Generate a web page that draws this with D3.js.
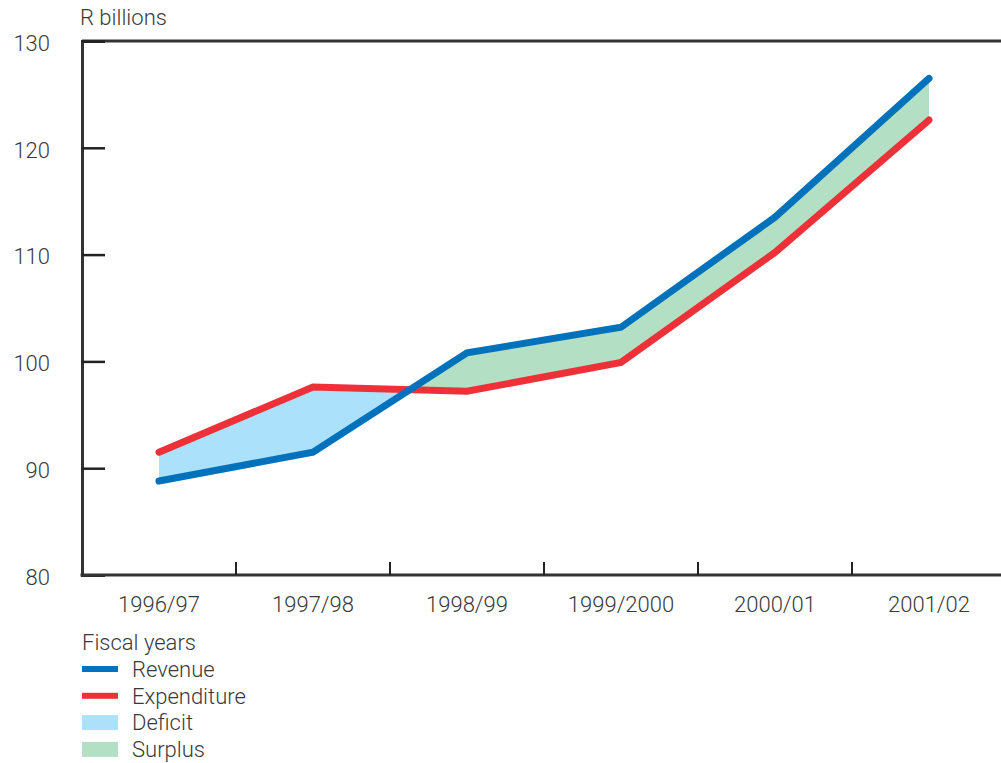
<!DOCTYPE html>
<html>
<head>
<meta charset="utf-8">
<script src="https://cdn.jsdelivr.net/npm/d3@7"></script>
<style>
  body { margin: 0; background: #fff; }
  svg text { font-family: Roboto, "Liberation Sans", sans-serif; font-weight: 300; fill: #3a3a3a; }
</style>
</head>
<body>
<div id="chart"></div>
<script>
// Fiscal years and values (R billions)
const years = ["1996/97", "1997/98", "1998/99", "1999/2000", "2000/01", "2001/02"];
const revenue = [88.8, 91.5, 100.8, 103.2, 113.5, 126.5];
const expenditure = [91.5, 97.6, 97.2, 99.9, 110.2, 122.6];
const yTicks = [80, 90, 100, 110, 120, 130];

const legendItems = [
    { label: "Revenue", color: "#0072bc", h: 6 },
    { label: "Expenditure", color: "#ee3139", h: 6 },
    { label: "Deficit", color: "#abe1fa", h: 15 },
    { label: "Surplus", color: "#b3e0c5", h: 15 }
];

const width = 1001;
const height = 763;
const margin = { top: 41, left: 82, bottom: 575 };
const fontSize = 22;

const svg = d3.select("#chart")
    .append("svg")
    .attr("width", width)
    .attr("height", height);

const x = d3.scaleBand()
    .domain(years)
    .range([margin.left, margin.left + 6 * 154]);

const y = d3.scaleLinear()
    .domain([80, 130])
    .range([margin.bottom, margin.top]);

const cx = d => x(d) + x.bandwidth() / 2;

const data = years.map((yr, i) => ({ year: yr, rev: revenue[i], exp: expenditure[i] }));

// clip regions above / below the revenue line
const defs = svg.append("defs");
defs.append("clipPath").attr("id", "clip-above")
    .append("path")
    .attr("d", d3.area().x(d => cx(d.year)).y0(0).y1(d => y(d.rev))(data));
defs.append("clipPath").attr("id", "clip-below")
    .append("path")
    .attr("d", d3.area().x(d => cx(d.year)).y0(height).y1(d => y(d.rev))(data));

const between = d3.area()
    .x(d => cx(d.year))
    .y0(d => y(d.rev))
    .y1(d => y(d.exp));

// deficit: expenditure above revenue
svg.append("path")
    .attr("clip-path", "url(#clip-above)")
    .attr("fill", "#abe1fa")
    .attr("d", between(data));

// surplus: expenditure below revenue
svg.append("path")
    .attr("clip-path", "url(#clip-below)")
    .attr("fill", "#b3e0c5")
    .attr("d", between(data));

// frame: top line
svg.append("line")
    .attr("x1", margin.left).attr("x2", width)
    .attr("y1", margin.top).attr("y2", margin.top)
    .attr("stroke", "#333").attr("stroke-width", 3);

// y axis
const yAxis = svg.append("g")
    .attr("transform", `translate(${margin.left},0)`)
    .call(d3.axisLeft(y).tickValues(yTicks).tickSize(-23).tickPadding(32));
yAxis.select(".domain").attr("stroke", "#333").attr("stroke-width", 3);
yAxis.selectAll(".tick line").attr("stroke", "#222").attr("stroke-width", 2.5);
yAxis.selectAll(".tick text")
    .attr("font-size", fontSize)
    .attr("dy", "0.42em");

// x axis
const xAxis = svg.append("g")
    .attr("transform", `translate(0,${margin.bottom})`)
    .call(d3.axisBottom(x).tickSize(0).tickPadding(21));
xAxis.select(".domain").remove();
xAxis.selectAll(".tick text").attr("font-size", fontSize);

svg.append("line")
    .attr("x1", margin.left - 1.5).attr("x2", width)
    .attr("y1", margin.bottom).attr("y2", margin.bottom)
    .attr("stroke", "#333").attr("stroke-width", 3);

svg.selectAll(".band-tick")
    .data(years.slice(1))
    .enter()
    .append("line")
    .attr("class", "band-tick")
    .attr("x1", d => x(d)).attr("x2", d => x(d))
    .attr("y1", margin.bottom).attr("y2", margin.bottom - 13)
    .attr("stroke", "#222").attr("stroke-width", 2);

// lines
const line = key => d3.line().x(d => cx(d.year)).y(d => y(d[key]));

svg.append("path")
    .datum(data)
    .attr("fill", "none")
    .attr("stroke", "#ee3139")
    .attr("stroke-width", 7)
    .attr("stroke-linecap", "round")
    .attr("d", line("exp"));

svg.append("path")
    .datum(data)
    .attr("fill", "none")
    .attr("stroke", "#0072bc")
    .attr("stroke-width", 7)
    .attr("stroke-linecap", "round")
    .attr("d", line("rev"));

// unit label
svg.append("text")
    .attr("x", 80).attr("y", 25)
    .attr("font-size", fontSize)
    .text("R billions");

// legend
svg.append("text")
    .attr("x", 82).attr("y", 650)
    .attr("font-size", fontSize)
    .text("Fiscal years");

const legend = svg.selectAll(".legend")
    .data(legendItems)
    .enter()
    .append("g")
    .attr("class", "legend")
    .attr("transform", (d, i) => `translate(82, ${669 + i * 26.8})`);

legend.append("rect")
    .attr("x", 0).attr("y", d => -d.h / 2)
    .attr("width", 36).attr("height", d => d.h)
    .attr("fill", d => d.color);

legend.append("text")
    .attr("x", 50).attr("y", 0)
    .attr("dy", "0.35em")
    .attr("font-size", fontSize)
    .text(d => d.label);
</script>
</body>
</html>
